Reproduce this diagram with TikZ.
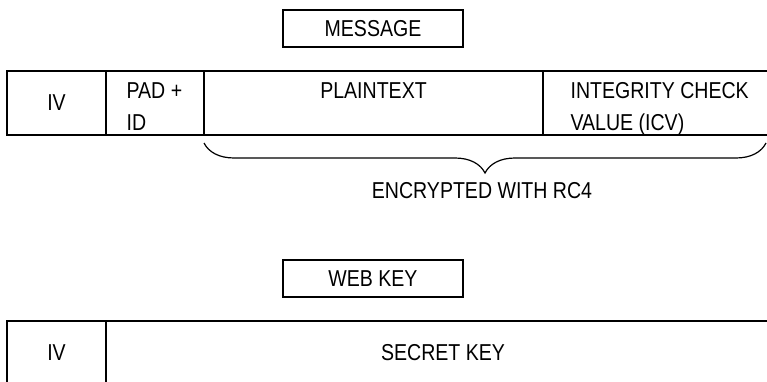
\documentclass[tikz,border=0pt]{standalone}
\usepackage{fontspec}
\setmainfont{Liberation Sans}[FakeStretch=0.85]
\usetikzlibrary{positioning,decorations.pathreplacing}
\begin{document}
\begin{tikzpicture}[x=1pt,y=-1pt,line width=1.2pt,font=\fontsize{23}{32}\selectfont]
\tikzstyle{cell}=[draw,anchor=north west,minimum height=64pt,inner sep=0pt,outer sep=0pt]
\tikzstyle{tag}=[draw,minimum width=180pt,minimum height=37pt,inner sep=0pt]
\tikzstyle{txt}=[inner sep=0pt,align=left]
\useasboundingbox (0,0) rectangle (767,382);
% message frame
\node[tag] (msg) at (373,28.5) {MESSAGE};
\node[cell,minimum width=99pt] (iv1) at (7,71) {};
\node[cell,minimum width=98pt] (pad) at (iv1.north east) {};
\node[cell,minimum width=339pt] (plain) at (pad.north east) {};
\node[cell,minimum width=237pt] (icv) at (plain.north east) {};
\node[txt] (iv1t) at (iv1) {IV};
\node[txt,anchor=north west] (padt) at ([xshift=20pt,yshift=-11pt]pad.north west) {PAD +\\ID};
\node[txt,anchor=north] (plaint) at ([yshift=-11pt]plain.north) {PLAINTEXT};
\node[txt,anchor=north west] (icvt) at ([xshift=27pt,yshift=-11pt]icv.north west) {INTEGRITY CHECK\\VALUE (ICV)};
% encrypted part
\coordinate (bl) at ([yshift=-8pt]plain.south west);
\coordinate (br) at (766,143);
\coordinate (tip) at (482,173);
\draw[decorate,decoration={brace,mirror,amplitude=30pt}] (bl) -- (br);
\node[txt,below=9pt of tip] (enc) {ENCRYPTED WITH RC4};
% key frame
\node[tag] (wep) at (373,278.5) {WEB KEY};
\node[cell,minimum width=99pt] (iv2) at (7,321) {};
\node[cell,minimum width=674pt] (key) at (iv2.north east) {};
\node[txt] (iv2t) at (iv2) {IV};
\node[txt] (keyt) at (key) {SECRET KEY};
\end{tikzpicture}
\end{document}
